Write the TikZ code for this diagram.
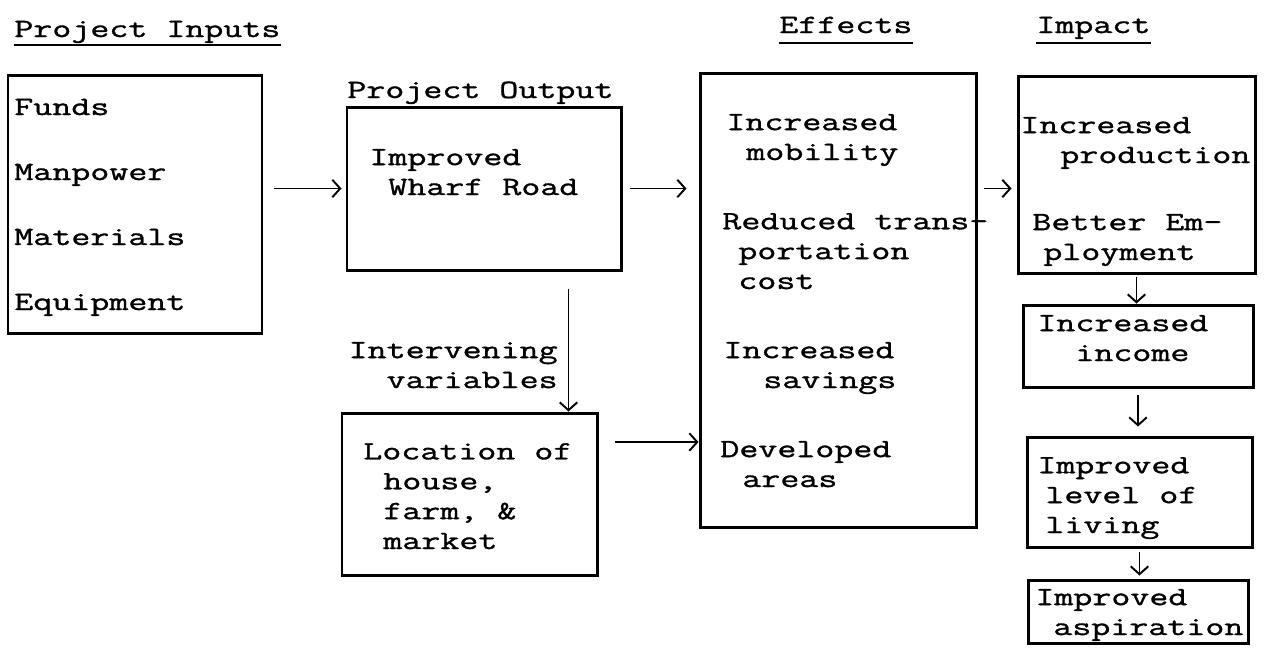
\documentclass[tikz,border=0pt]{standalone}
\usepackage{fontspec}
\setmonofont[FakeStretch=1.4, FakeBold=1.2]{Latin Modern Mono}
\usetikzlibrary{arrows.meta,fit,calc}

\newcommand{\tyfont}{\ttfamily\fontsize{15}{17}\selectfont}
\newcommand{\ind}[1]{\hspace*{#1}}

\tikzset{
  frame/.style={draw, line width=1.7pt, inner sep=0pt},
  % multi-line texts are placed by the baseline of their last line
  typed/.style={anchor=base west, inner sep=0pt, align=left, font=\tyfont},
  link/.style={->, line width=1.1pt},
}

\begin{document}
\begin{tikzpicture}[x=0.02cm, y=-0.02cm, >={Straight Barb[length=4.5pt,width=10pt]}]
  \useasboundingbox (0,0) rectangle (1273,647);

  % headings
  \node[typed] (ttlin)  at (14,37)   {Project Inputs};
  \node[typed] (ttlout) at (347,98)  {Project Output};
  \node[typed] (ttleff) at (779,33)  {Effects};
  \node[typed] (ttlimp) at (1036,33) {Impact};
  \draw[line width=1.3pt] ([yshift=-0.16cm]ttlin.base west) -- ([yshift=-0.16cm]ttlin.base east);
  \draw[line width=1.3pt] ([yshift=-0.2cm]ttleff.base west) -- ([yshift=-0.2cm]ttleff.base east);
  \draw[line width=1.3pt] ([yshift=-0.2cm]ttlimp.base west) -- ([yshift=-0.2cm]ttlimp.base east);

  % boxes
  \node[frame, fit={(8,75) (262,333)}]      (inputs) {};
  \node[frame, fit={(347,107) (621,270)}]   (output) {};
  \node[frame, fit={(342,413) (597,575)}]   (location) {};
  \node[frame, fit={(700,73) (976,527)}]    (effects) {};
  \node[frame, fit={(1018,76) (1255,273)}]  (impact) {};
  \node[frame, fit={(1023,305) (1253,387)}] (income) {};
  \node[frame, fit={(1027,437) (1252,547)}] (living) {};
  \node[frame, fit={(1028,580) (1248,643)}] (aspiration) {};

  % inputs
  \node[typed] (funds)     at (14,115) {Funds};
  \node[typed] (manpower)  at (14,180) {Manpower};
  \node[typed] (materials) at (14,245) {Materials};
  \node[typed] (equipment) at (14,310) {Equipment};

  % output and intervening variables
  \node[typed] (road) at (369,195) {Improved\\\ind{0.38cm}Wharf Road};
  \node[typed, anchor=base east, align=right] (interv) at (558,388) {Intervening\\variables};
  \node[typed] (place) at (363,549) {Location of\\\ind{0.4cm}house,\\\ind{0.4cm}farm, \&\\\ind{0.4cm}market};

  % effects
  \node[typed] (mobility) at (726,160) {Increased\\\ind{0.4cm}mobility};
  \node[typed] (cost)     at (722,289) {Reduced trans-\\\ind{0.32cm}portation\\\ind{0.32cm}cost};
  \node[typed] (savings)  at (723,388) {Increased\\\ind{0.8cm}savings};
  \node[typed] (areas)    at (720,487) {Developed\\\ind{0.44cm}areas};

  % impact
  \node[typed] (prod)    at (1020,163) {Increased\\\ind{0.8cm}production};
  \node[typed] (employ)  at (1032,260) {Better Em-\\\ind{0.22cm}ployment};
  \node[typed] (inc)     at (1037,361) {Increased\\\ind{0.76cm}income};
  \node[typed] (level)   at (1037,533) {Improved\\\ind{0.16cm}level of\\\ind{0.16cm}living};
  \node[typed] (aspire)  at (1035,635) {Improved\\\ind{0.36cm}aspiration};

  % arrows
  \draw[link, shorten <=0.22cm, shorten >=0.08cm] (inputs.east |- output.west) -- (output.west);
  \draw[link, shorten <=0.14cm, shorten >=0.24cm] (output.east) -- (output.east -| effects.west);
  \draw[link, shorten <=0.12cm, shorten >=0.1cm] (effects.east |- output.east) -- (impact.west |- output.east);
  \coordinate (drop) at ($(output.south west)!0.805!(output.south east)$);
  \draw[link, shorten <=0.34cm] (drop) -- (drop |- location.north);
  \coordinate (side) at ($(location.north east)!0.185!(location.south east)$);
  \draw[link, shorten <=0.32cm] (side) -- (side -| effects.west);
  \draw[link, shorten <=0.04cm] (impact.south) -- (impact.south |- income.north);
  \draw[link, shorten <=0.12cm, shorten >=0.18cm] (income.south) -- (income.south |- living.north);
  \draw[link, shorten <=0.06cm, shorten >=0.06cm] (living.south) -- (living.south |- aspiration.north);
\end{tikzpicture}
\end{document}
